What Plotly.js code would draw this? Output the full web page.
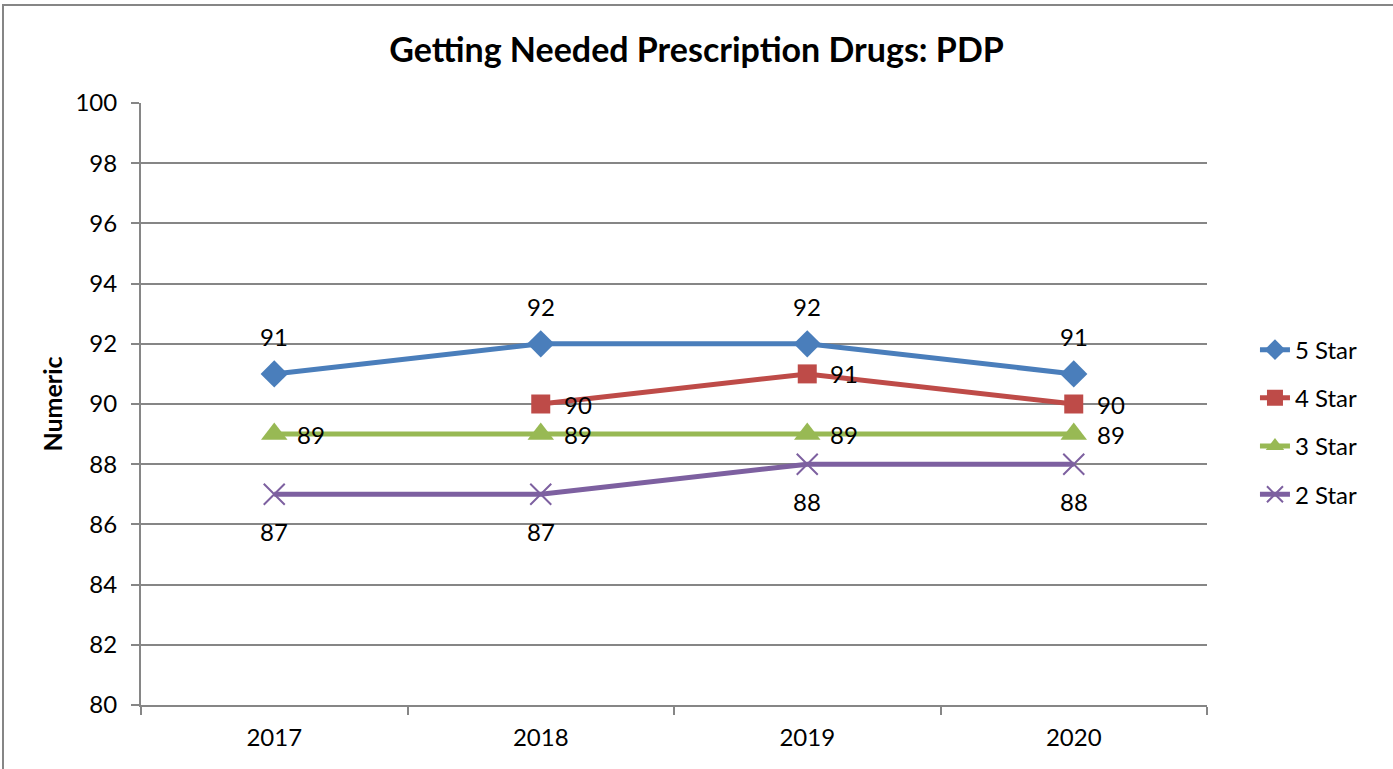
<!DOCTYPE html>
<html>
<head>
<meta charset="utf-8">
<script src="https://cdn.plot.ly/plotly-3.0.1.min.js"></script>
<style>
html,body{margin:0;padding:0;background:#fff;overflow:hidden;}
#chart{width:1393px;height:769px;}
#frame{position:absolute;left:2px;top:4px;width:1400px;height:800px;border-left:2px solid #868686;border-top:2px solid #868686;pointer-events:none;}
</style>
</head>
<body>
<div id="chart"></div>
<div id="frame"></div>
<script>
const years = ["2017", "2018", "2019", "2020"];
const star5 = [91, 92, 92, 91];
const star4 = [null, 90, 91, 90];
const star3 = [89, 89, 89, 89];
const star2 = [87, 87, 88, 88];
const yTicks = [80, 82, 84, 86, 88, 90, 92, 94, 96, 98, 100];

const FONT = "Lato, Carlito, Calibri, 'Noto Sans', sans-serif";

const seriesDefs = [
  {name: "5 Star", y: star5, color: "#4A7EBB", symbol: "diamond", size: 21, lpos: "top"},
  {name: "4 Star", y: star4, color: "#BE4B48", symbol: "square", size: 19, lpos: "right"},
  {name: "3 Star", y: star3, color: "#98B954", symbol: "triangle-up", size: 23, lpos: "right"},
  {name: "2 Star", y: star2, color: "#7D60A0", symbol: "x-thin-open", size: 21, lpos: "bottom"}
];

const traces = seriesDefs.map((s, i) => ({
  type: "scatter",
  mode: "lines+markers",
  name: s.name,
  x: years,
  y: s.y,
  legendgroup: "g" + i,
  line: {color: s.color, width: 5},
  marker: {color: s.color, symbol: s.symbol, size: s.size,
           line: {color: s.color, width: s.symbol === "x-thin-open" ? 2 : 0}},
  connectgaps: false
}));

const annotations = [];
seriesDefs.forEach(s => {
  s.y.forEach((v, j) => {
    if (v === null) return;
    const a = {x: j, y: v, xref: "x", yref: "y", text: String(v), showarrow: false,
               font: {family: FONT, size: 24, color: "#000"}};
    if (s.lpos === "top") { a.yshift = 37; }
    else if (s.lpos === "bottom") { a.yshift = -37; }
    else { a.xshift = 37; }
    annotations.push(a);
  });
});

const layout = {
  width: 1393, height: 769,
  margin: {l: 141, r: 186, t: 103, b: 64, pad: 0},
  paper_bgcolor: "#fff", plot_bgcolor: "#fff",
  font: {family: FONT, size: 24, color: "#000"},
  title: {text: "<b>Getting Needed Prescription Drugs: PDP</b>", x: 0.5, xanchor: "center",
          y: 0.935, yanchor: "middle", font: {family: FONT, size: 34, color: "#000"}},
  xaxis: {type: "category", range: [-0.5, 3.5], tickson: "boundaries", ticks: "outside",
          ticklen: 8, tickcolor: "#868686", tickwidth: 2, showline: true, linecolor: "#868686",
          linewidth: 2, showgrid: false, zeroline: false, tickfont: {family: FONT, size: 24},
          ticklabelstandoff: 10, fixedrange: true},
  yaxis: {range: [80, 100], tickvals: yTicks, ticktext: yTicks.map(String), ticks: "outside",
          ticklen: 8, tickcolor: "#868686", tickwidth: 2, showline: true, linecolor: "#868686",
          linewidth: 2, showgrid: true, gridcolor: "#868686", gridwidth: 2, zeroline: false,
          tickfont: {family: FONT, size: 24}, ticklabelstandoff: 9,
          title: {text: "<b>Numeric</b>", font: {family: FONT, size: 25}, standoff: 6},
          fixedrange: true},
  legend: {x: 1.045, xanchor: "left", y: 0.47, yanchor: "middle", traceorder: "grouped",
           tracegroupgap: 14, font: {family: FONT, size: 24}, itemwidth: 30,
           bgcolor: "rgba(0,0,0,0)"},
  annotations: annotations,
  showlegend: true
};

Plotly.newPlot("chart", traces, layout, {displayModeBar: false, staticPlot: true});
</script>
</body>
</html>
